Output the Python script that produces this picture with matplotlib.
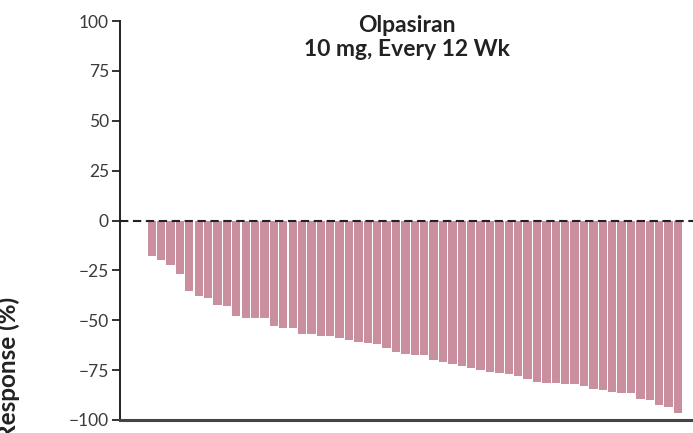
import numpy as np
import matplotlib.pyplot as plt

plt.rcParams['font.family'] = ['Lato', 'DejaVu Sans']

# percent change per patient, sorted
response = [-18, -20, -22.5, -27, -35.5, -38, -39, -42.5, -43, -48,
            -49, -49, -49, -53, -54, -54, -57, -57, -58, -58,
            -59, -60, -61, -61.5, -62, -64, -66, -67, -67.5, -67.5,
            -70, -71, -72, -73, -74, -75, -76, -76.5, -77, -78,
            -79.5, -81, -81.5, -81.5, -82, -82, -83, -84.5, -85, -86,
            -86.5, -86.5, -89.5, -90, -92.5, -93.5, -96.5]
yticks = [100, 75, 50, 25, 0, -25, -50, -75, -100]
title = "Olpasiran\n10 mg, Every 12 Wk"

fig = plt.figure(figsize=(6.93, 4.33), dpi=100)
ax = fig.add_axes([120 / 693, 13 / 433, 1 - 120 / 693, (420 - 21) / 433])

x = np.arange(len(response))
ax.bar(x, response, width=0.88, color='#c98f9e', edgecolor='none', zorder=1)
ax.axhline(0, color='#222222', lw=1.5, ls=(0, (4, 2.2)), zorder=2)

ax.set_xlim(-3.37, 57.6)
ax.set_ylim(-100, 100)
ax.set_yticks(yticks)
ax.set_yticklabels([str(t).replace('-', '\u2212') for t in yticks], fontsize=12.5, color='#3a3a3a')
ax.set_xticks([])
ax.tick_params(axis='y', direction='out', length=6, width=1.3, color='#222222', pad=2)

for side in ['top', 'right']:
    ax.spines[side].set_visible(False)
ax.spines['left'].set_linewidth(1.4)
ax.spines['left'].set_color('#222222')
ax.spines['bottom'].set_linewidth(2.2)
ax.spines['bottom'].set_color('#444444')

ax.text(0.5, 1.015, title, transform=ax.transAxes, ha='center', va='top',
        fontsize=16.5, fontweight='bold', color='#222222', linespacing=1.2)

# the shared axis label is cut by the left/bottom edge in the source panel
fig.text(8 / 693, 1 - 297 / 433, "Response (%)", rotation=90, ha='center', va='top',
         fontsize=17.5, fontweight='bold', color='#222222')

fig.savefig('out.png', dpi=100)
